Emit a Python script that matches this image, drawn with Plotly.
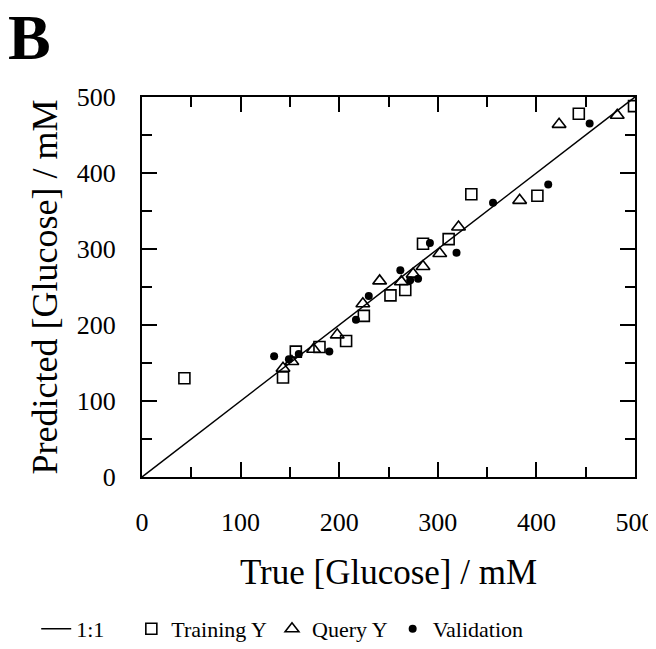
import plotly.graph_objects as go

# Training Y (open squares)
train_true = [43, 143, 156, 180, 207, 225, 252, 267, 285, 311, 334, 401, 443, 499]
train_pred = [130, 131, 165, 171, 179, 212, 239, 246, 307, 313, 372, 370, 478, 488]

# Query Y (open triangles)
query_true = [143, 152, 174, 198, 224, 241, 263, 275, 285, 302, 321, 383, 423, 482]
query_pred = [143, 152, 168, 187, 228, 258, 257, 267, 277, 294, 329, 364, 464, 476]

# Validation (filled dots)
valid_true = [134, 149, 159, 190, 217, 230, 262, 272, 280, 292, 319, 356, 412, 454]
valid_pred = [159, 155, 162, 165, 207, 238, 272, 259, 261, 308, 295, 361, 385, 465]

line_x = [0, 500]
line_y = [0, 500]

serif = "Liberation Serif, Times New Roman, serif"

fig = go.Figure()
# nbsp padding widens the first legend entry like in the original
fig.add_trace(go.Scatter(x=line_x, y=line_y, mode="lines", name="1:1\u00a0\u00a0\u00a0\u00a0",
                         line=dict(color="black", width=1.5)))
fig.add_trace(go.Scatter(x=train_true, y=train_pred, mode="markers", name="Training Y",
                         marker=dict(symbol="square-open", size=11, color="black",
                                     line=dict(width=1.6))))
fig.add_trace(go.Scatter(x=query_true, y=query_pred, mode="markers", name="Query Y",
                         marker=dict(symbol="triangle-up-open", size=12, color="black",
                                     line=dict(width=1.6))))
fig.add_trace(go.Scatter(x=valid_true, y=valid_pred, mode="markers", name="Validation",
                         marker=dict(symbol="circle", size=8, color="black")))

axis_common = dict(
    range=[0, 500], dtick=100, tick0=0, automargin=False,
    showline=True, linecolor="black", linewidth=2, mirror="allticks",
    ticks="inside", ticklen=15, tickwidth=2, tickcolor="black",
    minor=dict(ticks="inside", dtick=50, ticklen=10, tickwidth=1.5, tickcolor="black"),
    showgrid=False, zeroline=False,
    tickfont=dict(family=serif, size=26, color="black"),
)

fig.update_xaxes(**axis_common, ticklabelstandoff=21,
                 title=dict(text="True [Glucose] / mM", standoff=23,
                            font=dict(family=serif, size=35, color="black")))
fig.update_yaxes(**axis_common, ticklabelstandoff=19,
                 title=dict(text="Predicted [Glucose] / mM", standoff=8,
                            font=dict(family=serif, size=36, color="black")))

fig.update_layout(
    width=656, height=649,
    margin=dict(l=134, r=29, t=89, b=180),
    plot_bgcolor="white", paper_bgcolor="white",
    title=dict(text="<b>B</b>", x=0.0, xanchor="left", y=0.99, yanchor="top",
               font=dict(family=serif, size=64, color="black")),
    legend=dict(orientation="h", xref="container", yref="container",
                x=0.043, xanchor="left", y=0.0755, yanchor="top",
                font=dict(family=serif, size=22, color="black"),
                itemsizing="trace", itemwidth=30),
    showlegend=True,
)

fig.write_html("out.html")
